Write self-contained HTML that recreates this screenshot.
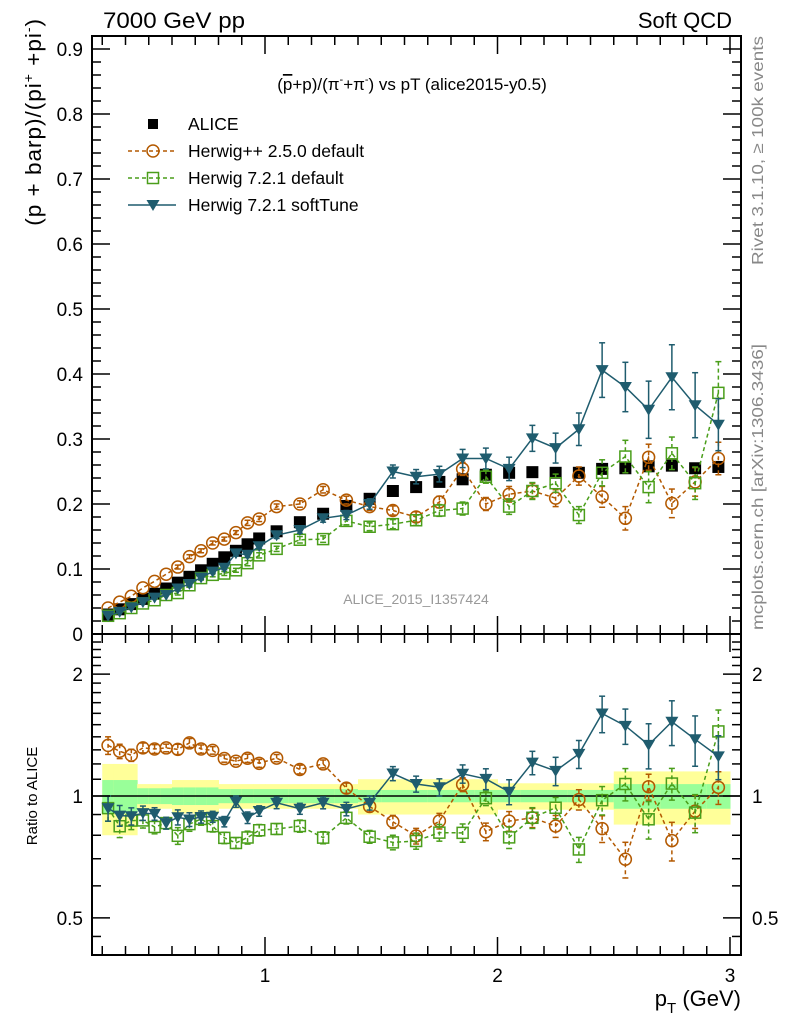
<!DOCTYPE html>
<html><head><meta charset="utf-8"><style>
html,body{margin:0;padding:0;background:#fff}
svg{display:block;font-family:"Liberation Sans",sans-serif}
</style></head><body>
<svg id="c" width="786" height="1024" viewBox="0 0 786 1024"></svg>
<script>
const binLo=[0.3,0.35,0.4,0.45,0.5,0.55,0.6,0.65,0.7,0.75,0.8,0.85,0.9,0.95,1.0,1.1,1.2,1.3,1.4,1.5,1.6,1.7,1.8,1.9,2.0,2.1,2.2,2.3,2.4,2.5,2.6,2.7,2.8,2.9];
const binHi=[0.35,0.4,0.45,0.5,0.55,0.6,0.65,0.7,0.75,0.8,0.85,0.9,0.95,1.0,1.1,1.2,1.3,1.4,1.5,1.6,1.7,1.8,1.9,2.0,2.1,2.2,2.3,2.4,2.5,2.6,2.7,2.8,2.9,3.0];
const alice=[0.030,0.038,0.046,0.054,0.062,0.070,0.079,0.088,0.098,0.108,0.118,0.128,0.138,0.147,0.158,0.172,0.185,0.197,0.208,0.220,0.226,0.234,0.238,0.245,0.248,0.249,0.248,0.248,0.254,0.255,0.258,0.259,0.255,0.257];
const aliceStat=[0.095,0.095,0.095,0.045,0.045,0.045,0.05,0.05,0.05,0.05,0.04,0.04,0.04,0.04,0.04,0.04,0.04,0.04,0.035,0.035,0.035,0.035,0.035,0.035,0.035,0.035,0.035,0.035,0.035,0.07,0.07,0.07,0.07,0.07];
const aliceTot=[0.20,0.20,0.20,0.07,0.07,0.07,0.095,0.095,0.095,0.095,0.07,0.07,0.07,0.07,0.07,0.07,0.07,0.07,0.10,0.10,0.10,0.10,0.10,0.10,0.075,0.075,0.075,0.075,0.075,0.15,0.15,0.15,0.15,0.15];
const hpp=[0.040,0.049,0.058,0.071,0.081,0.092,0.103,0.119,0.128,0.140,0.146,0.156,0.171,0.177,0.196,0.200,0.222,0.206,0.196,0.190,0.180,0.203,0.254,0.200,0.215,0.220,0.209,0.243,0.211,0.178,0.272,0.201,0.234,0.270];
const hppErr=[0.002,0.002,0.002,0.002,0.002,0.002,0.003,0.003,0.003,0.003,0.003,0.003,0.004,0.004,0.004,0.005,0.005,0.006,0.006,0.007,0.008,0.009,0.010,0.010,0.012,0.012,0.013,0.014,0.016,0.018,0.020,0.022,0.022,0.025];
const h721=[0.028,0.032,0.040,0.047,0.052,0.060,0.063,0.075,0.086,0.091,0.093,0.098,0.109,0.121,0.131,0.145,0.146,0.174,0.165,0.169,0.175,0.190,0.193,0.242,0.196,0.220,0.232,0.183,0.248,0.273,0.226,0.278,0.232,0.371];
const h721Err=[0.002,0.002,0.002,0.002,0.002,0.002,0.003,0.003,0.003,0.003,0.003,0.003,0.004,0.004,0.004,0.005,0.005,0.006,0.006,0.007,0.008,0.009,0.010,0.010,0.012,0.013,0.014,0.013,0.020,0.025,0.024,0.025,0.025,0.048];
const soft=[0.028,0.034,0.041,0.049,0.056,0.060,0.070,0.077,0.087,0.096,0.102,0.124,0.122,0.135,0.152,0.160,0.178,0.183,0.200,0.250,0.242,0.246,0.270,0.270,0.254,0.301,0.286,0.315,0.406,0.380,0.345,0.395,0.352,0.322];
const softErr=[0.002,0.002,0.002,0.002,0.002,0.002,0.003,0.003,0.003,0.003,0.003,0.004,0.004,0.004,0.005,0.005,0.006,0.007,0.008,0.010,0.011,0.012,0.014,0.016,0.018,0.020,0.023,0.025,0.042,0.038,0.044,0.050,0.050,0.040];
const yTicks=[0,0.1,0.2,0.3,0.4,0.5,0.6,0.7,0.8,0.9];
const yTickLabels=["0","0.1","0.2","0.3","0.4","0.5","0.6","0.7","0.8","0.9"];
const xTicks=[1,2,3];
const xTickLabels=["1","2","3"];
const rTicks=[0.5,1,2];
const rTickLabels=["0.5","1","2"];

const L=92,R=741,T=36,B=634,RB=955;
const X=v=>265+(v-1)*232.5;
const Y=v=>634-v*650;
const RY=v=>796-405*Math.log10(v);
const svg=document.getElementById('c');
const NS='http://www.w3.org/2000/svg';
function mk(tag,at,parent){const e=document.createElementNS(NS,tag);for(const k in at)e.setAttribute(k,at[k]);(parent||svg).appendChild(e);return e;}
function txt(s,at,parent){const e=mk('text',at,parent);e.textContent=s;return e;}

const bands=mk('g',{});


for(let i=0;i<alice.length;i++){
  const x0=X(binLo[i]),x1=X(binHi[i]);
  const y=mk('rect',{x:x0,y:RY(1+aliceTot[i]),width:x1-x0+0.5,height:RY(1-aliceTot[i])-RY(1+aliceTot[i]),fill:'#ffff99'},bands);
  
  
  const g=mk('rect',{x:x0,y:RY(1+aliceStat[i]),width:x1-x0+0.5,height:RY(1-aliceStat[i])-RY(1+aliceStat[i]),fill:'#99ff99'},bands);
  
  
}
mk('line',{x1:L,x2:R,y1:RY(1),y2:RY(1),stroke:'#000','stroke-width':1.5});

const series=[
 {name:'herwigpp-250',vals:hpp,err:hppErr,color:'#b35900',dash:'4,3',marker:'circle'},
 {name:'herwig-721-default',vals:h721,err:h721Err,color:'#4a9e1a',dash:'4,3',marker:'square'},
 {name:'herwig-721-softtune',vals:soft,err:softErr,color:'#1f5c6e',dash:'',marker:'tri'}
];
function marker(type,cx,cy,color,g){
  let e;
  if(type==='circle')e=mk('circle',{cx:cx,cy:cy,r:6,fill:'none',stroke:color,'stroke-width':1.5},g);
  else if(type==='square')e=mk('rect',{x:cx-5.5,y:cy-5.5,width:11,height:11,fill:'none',stroke:color,'stroke-width':1.5},g);
  else if(type==='tri')e=mk('polygon',{points:`${cx-6.5},${cy-5} ${cx+6.5},${cy-5} ${cx},${cy+6}`,fill:color},g);
  else e=mk('rect',{x:cx-6,y:cy-6,width:12,height:12,fill:'#000'},g);
  return e;
}
function drawSeries(s,yf,ratio){
  const g=mk('g',{});
  
  
  const pts=s.vals.map((v,i)=>[X((binLo[i]+binHi[i])/2),yf(ratio?v/alice[i]:v)]);
  const ln=mk('polyline',{points:pts.map(p=>p.join(',')).join(' '),fill:'none',stroke:s.color,'stroke-width':1.5,'stroke-dasharray':s.dash},g);
  
  
  s.vals.forEach((v,i)=>{
    const c=pts[i][0];
    const hi=ratio?(v+s.err[i])/alice[i]:v+s.err[i];
    const lo=ratio?(v-s.err[i])/alice[i]:v-s.err[i];
    const y1=yf(hi),y2=yf(lo);
    if(y2-y1>3){
      mk('line',{x1:c,x2:c,y1:y1,y2:y2,stroke:s.color,'stroke-width':1.5,'stroke-dasharray':s.dash},g);
      mk('line',{x1:c-3,x2:c+3,y1:y1,y2:y1,stroke:s.color,'stroke-width':1.5},g);
      mk('line',{x1:c-3,x2:c+3,y1:y2,y2:y2,stroke:s.color,'stroke-width':1.5},g);
    }
    const m=marker(s.marker,c,pts[i][1],s.color,g);
    
    
  });
}
const ag=mk('g',{});


alice.forEach((v,i)=>{
  const m=marker('data',X((binLo[i]+binHi[i])/2),Y(v),'#000',ag);
  
  
});
series.forEach(s=>{drawSeries(s,Y,false);drawSeries(s,RY,true);});

mk('rect',{x:L,y:T,width:R-L,height:B-T,fill:'none',stroke:'#000','stroke-width':2});
mk('rect',{x:L,y:B,width:R-L,height:RB-B,fill:'none',stroke:'#000','stroke-width':2});

for(let v=0;v<=0.92;v+=0.02){
  const y=Y(v),maj=Math.abs(v*10-Math.round(v*10))<1e-6;
  const len=maj?18:9;
  mk('line',{x1:L,x2:L+len,y1:y,y2:y,stroke:'#000','stroke-width':1.5});
  mk('line',{x1:R,x2:R-len,y1:y,y2:y,stroke:'#000','stroke-width':1.5});
}
yTicks.forEach((v,i)=>{const t=txt(yTickLabels[i],{x:83,y:Y(v)+7,'font-size':19,'text-anchor':'end'});
});
for(let v=0.5;v<=2.5;v+=0.1){
  const y=RY(v);const maj=[0.5,1,2].some(m=>Math.abs(m-v)<1e-6);
  const len=maj?18:9;
  mk('line',{x1:L,x2:L+len,y1:y,y2:y,stroke:'#000','stroke-width':1.5});
  mk('line',{x1:R,x2:R-len,y1:y,y2:y,stroke:'#000','stroke-width':1.5});
}
[0.45].forEach(v=>{const y=RY(v);mk('line',{x1:L,x2:L+9,y1:y,y2:y,stroke:'#000','stroke-width':1.5});mk('line',{x1:R,x2:R-9,y1:y,y2:y,stroke:'#000','stroke-width':1.5});});
rTicks.forEach((v,i)=>{
  const a=txt(rTickLabels[i],{x:83,y:RY(v)+7,'font-size':19,'text-anchor':'end'});
  
  const b=txt(rTickLabels[i],{x:752,y:RY(v)+7,'font-size':19});
  
});
for(let k=3;k<=30;k++){
  const v=k/10,x=X(v);const maj=k%10===0;const len=maj?18:9;
  [[T,1],[B,-1],[B,1],[RB,-1]].forEach(([y0,d])=>mk('line',{x1:x,x2:x,y1:y0,y2:y0+d*len,stroke:'#000','stroke-width':1.5}));
}
xTicks.forEach((v,i)=>{const t=txt(xTickLabels[i],{x:X(v),y:982,'font-size':19,'text-anchor':'middle'});
});

function named(s,at,n){const t=txt(s,at);return t;}
named('7000 GeV pp',{x:103,y:28,'font-size':22,textLength:142,lengthAdjust:'spacingAndGlyphs'},'energy-label');
named('Soft QCD',{x:732,y:28,'font-size':22,'text-anchor':'end'},'process-label');
const tt=mk('text',{x:412,y:90,'font-size':17,'text-anchor':'middle'});

tt.innerHTML='(<tspan text-decoration="overline">p</tspan>+p)/(π<tspan dy="-7" font-size="11">-</tspan><tspan dy="7">+π</tspan><tspan dy="-7" font-size="11">-</tspan><tspan dy="7">) vs pT (alice2015-y0.5)</tspan>';
const yl=mk('text',{transform:'translate(41,18) rotate(-90)','font-size':22.5,'letter-spacing':1,'text-anchor':'end'});

yl.innerHTML='(p + barp)/(pi<tspan dy="-8" font-size="14">+</tspan><tspan dy="8"> +pi</tspan><tspan dy="-8" font-size="14">-</tspan><tspan dy="8">)</tspan>';
named('Ratio to ALICE',{transform:'translate(37,796) rotate(-90)','font-size':15,'text-anchor':'middle'},'ratio-axis-title');
const xl=mk('text',{x:741,y:1006,'font-size':22,'text-anchor':'end'});

xl.innerHTML='p<tspan dy="7" font-size="15">T</tspan><tspan dy="-7"> (GeV)</tspan>';
named('Rivet 3.1.10, ≥ 100k events',{transform:'translate(763,36) rotate(-90)','font-size':16,'text-anchor':'end',fill:'#888',textLength:229,lengthAdjust:'spacingAndGlyphs'},'rivet-label');
named('mcplots.cern.ch [arXiv:1306.3436]',{transform:'translate(763,344) rotate(-90)','font-size':16,'text-anchor':'end',fill:'#888',textLength:286,lengthAdjust:'spacingAndGlyphs'},'mcplots-label');
named('ALICE_2015_I1357424',{x:416,y:604,'font-size':14,'text-anchor':'middle',fill:'#999'},'analysis-id-label');

const leg=[['ALICE','#000','','data'],['Herwig++ 2.5.0 default','#b35900','4,3','circle'],['Herwig 7.2.1 default','#4a9e1a','4,3','square'],['Herwig 7.2.1 softTune','#1f5c6e','','tri']];
leg.forEach((e,i)=>{
  const g=mk('g',{});
  
  
  const y=124+i*27;
  if(e[3]!=='data')mk('line',{x1:128,x2:176,y1:y,y2:y,stroke:e[1],'stroke-width':1.5,'stroke-dasharray':e[2]},g);
  if(e[3]==='data')mk('rect',{x:148,y:y-5,width:10,height:10,fill:'#000'},g);else marker(e[3],153,y,e[1],g);
  txt(e[0],{x:188,y:y+6,'font-size':17.5},g);
});
</script>
</body></html>
